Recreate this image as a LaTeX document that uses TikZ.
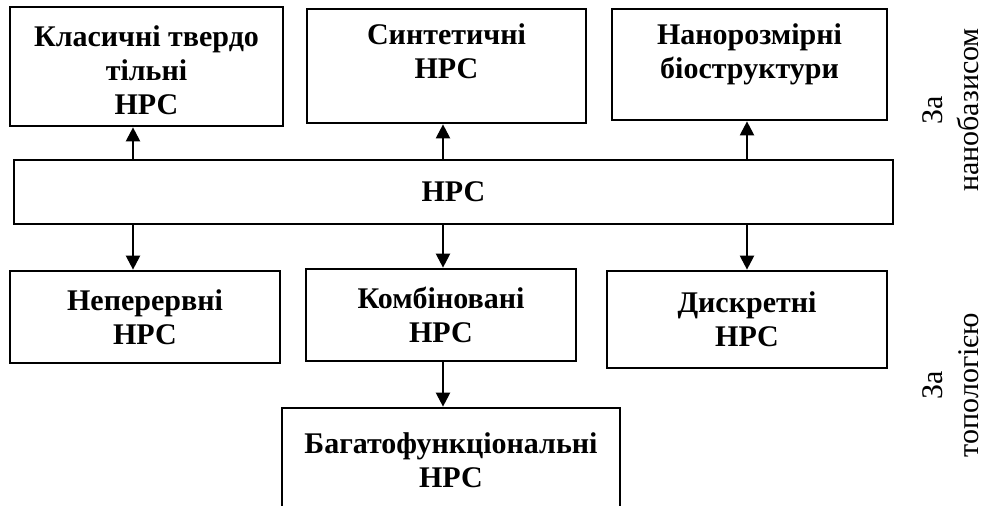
\documentclass[tikz,border=0pt]{standalone}
\usepackage{fontspec}
\setmainfont{Liberation Serif}
\usetikzlibrary{arrows.meta}
\tikzstyle{box} = [draw, line width=2.7pt, align=center, inner sep=0pt, font=\bfseries\fontsize{30}{34}\selectfont]
\tikzstyle{arrow} = [line width=2.2pt, -{Triangle[length=14pt,width=14pt]}]
\tikzstyle{side} = [rotate=90, align=center, inner sep=0pt, font=\fontsize{30}{36}\selectfont]

\begin{document}
\begin{tikzpicture}[x=1pt,y=-1pt]
  \useasboundingbox (0,0) rectangle (986,506);
  \clip (0,0) rectangle (986,506);
  % boxes
  \node[box, minimum width=273pt, minimum height=119pt, text height=96pt] (cls) at (146.5,66.5) {Класичні твердо\\тільні\\НРС};
  \node[box, minimum width=279pt, minimum height=114pt, text depth=30pt] (syn) at (446.5,66) {Синтетичні\\НРС};
  \node[box, minimum width=275pt, minimum height=111pt, text depth=26pt] (nano) at (749.5,64.5) {Нанорозмірні\\біоструктури};
  \node[box, minimum width=879pt, minimum height=64pt] (hpc) at (453.5,192) {НРС};
  \node[box, minimum width=270pt, minimum height=92pt] (cont) at (145,317) {Неперервні\\НРС};
  \node[box, minimum width=270pt, minimum height=92pt] (comb) at (441,315) {Комбіновані\\НРС};
  \node[box, minimum width=280pt, minimum height=97pt] (disc) at (747,319.5) {Дискретні\\НРС};
  \node[box, minimum width=338pt, minimum height=104pt] (multi) at (451,460) {Багатофункціональні\\НРС};

  % side captions
  \node[side] (bybasis) at (951,110) {За\\нанобазисом};
  \node[side] (bytopo) at (951,385) {За\\топологією};

  % arrows
  \coordinate (xl) at (133,0);
  \coordinate (xm) at (443,0);
  \coordinate (xr) at (747,0);
  \draw[arrow] (hpc.north -| xl) -- (cls.south -| xl);
  \draw[arrow] (hpc.north -| xm) -- (syn.south -| xm);
  \draw[arrow] (hpc.north -| xr) -- (nano.south -| xr);
  \draw[arrow] (hpc.south -| xl) -- (cont.north -| xl);
  \draw[arrow] (hpc.south -| xm) -- (comb.north -| xm);
  \draw[arrow] (hpc.south -| xr) -- (disc.north -| xr);
  \draw[arrow] (comb.south -| xm) -- (multi.north -| xm);
\end{tikzpicture}
\end{document}
